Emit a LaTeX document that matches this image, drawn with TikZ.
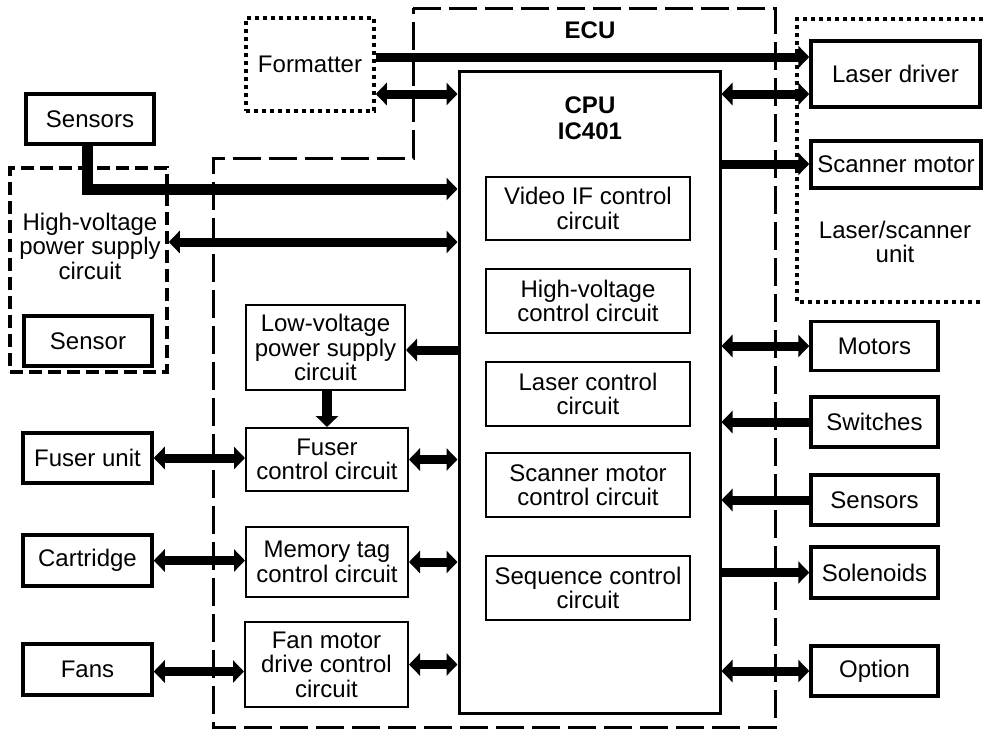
\documentclass[tikz,border=0pt]{standalone}
\usepackage{fontspec}
\setmainfont{Liberation Sans}
\usetikzlibrary{arrows.meta}
\newcommand{\fsz}{\fontsize{24}{24.5}\selectfont}
\tikzset{
  obox/.style={draw, line width=3.5pt, inner sep=0pt, align=center, font=\fsz},
  ibox/.style={draw, line width=2pt, inner sep=0pt, align=center, font=\fsz},
  txt/.style={inner sep=0pt, align=center, font=\fsz},
  btxt/.style={inner sep=0pt, align=center, font=\fsz\bfseries},
  dotbox/.style={line width=3.5pt, dash pattern=on 4pt off 4pt},
  hvdash/.style={line width=3.5pt, dash pattern=on 13pt off 6pt},
  ecudash/.style={line width=3pt, dash pattern=on 28pt off 8pt},
  sarrow/.style={line width=9pt, -{Triangle[length=11pt,width=22pt]}},
  barrow/.style={line width=9pt, {Triangle[length=11pt,width=22pt]}-{Triangle[length=11pt,width=22pt]}},
}
\begin{document}
\begin{tikzpicture}[x=1pt,y=-1pt]
\useasboundingbox (0,0) rectangle (983,729);

% ECU boundary
\draw[ecudash] (413,8) -- (775,8) -- (775,727) -- (213,727) -- (213,158) -- (413,158) -- cycle;
\node[btxt] (ecu) at (590,30) {ECU};

% Laser/scanner unit
\draw[dotbox] (983,19) -- (797,19) -- (797,302) -- (983,302);
\node[txt] (lsu) at (895,242) {Laser/scanner\\unit};

% Formatter
\node[draw, dotbox, minimum width=128pt, minimum height=93pt, inner sep=0pt, font=\fsz] (fmt) at (310,64.5) {Formatter};

% CPU
\node[draw, line width=3pt, minimum width=261pt, minimum height=642pt, inner sep=0pt] (cpu) at (589.5,392) {};
\node[btxt] (cpulbl) at (590,118) {CPU\\[2pt]IC401};
\node[ibox, minimum width=204pt, minimum height=63pt] (vif) at (588,208.5) {Video IF control\\circuit};
\node[ibox, minimum width=204pt, minimum height=64pt] (hvc) at (588,301) {High-voltage\\control circuit};
\node[ibox, minimum width=204pt, minimum height=64pt] (lc) at (588,394) {Laser control\\circuit};
\node[ibox, minimum width=204pt, minimum height=64pt] (smc) at (588,485) {Scanner motor\\control circuit};
\node[ibox, minimum width=204pt, minimum height=64pt] (seq) at (588,588) {Sequence control\\circuit};

% Left side
\node[obox, minimum width=128pt, minimum height=50pt] (sensL) at (90,119) {Sensors};
\node[draw, hvdash, minimum width=157pt, minimum height=204pt, inner sep=0pt] (hv) at (88.5,270) {};
\node[txt] (hvlbl) at (90,246) {High-voltage\\power supply\\circuit};
\node[obox, minimum width=128pt, minimum height=50pt] (sens1) at (88,341) {Sensor};
\node[obox, minimum width=129pt, minimum height=50pt] (fuseru) at (87.5,458) {Fuser unit};
\node[obox, minimum width=129pt, minimum height=51pt] (cart) at (87.5,560.5) {Cartridge};
\node[obox, minimum width=129pt, minimum height=51pt] (fans) at (87.5,669.5) {Fans};

\node[ibox, minimum width=159pt, minimum height=85pt] (lv) at (325.5,347.5) {Low-voltage\\power supply\\circuit};
\node[ibox, minimum width=162pt, minimum height=63pt] (fuserc) at (327,459.5) {Fuser\\control circuit};
\node[ibox, minimum width=162pt, minimum height=70pt] (memc) at (327,562) {Memory tag\\control circuit};
\node[ibox, minimum width=163pt, minimum height=85pt] (fanc) at (326.5,664.5) {Fan motor\\drive control\\circuit};

% Right side
\node[obox, minimum width=169pt, minimum height=66pt] (ld) at (895.5,74) {Laser driver};
\node[obox, minimum width=170pt, minimum height=47pt] (sm) at (896,164.5) {Scanner motor};
\node[obox, minimum width=127pt, minimum height=49pt] (motors) at (874.5,346) {Motors};
\node[obox, minimum width=127pt, minimum height=50pt] (sw) at (874.5,422) {Switches};
\node[obox, minimum width=127pt, minimum height=50pt] (sensR) at (874.5,500) {Sensors};
\node[obox, minimum width=127pt, minimum height=51pt] (sol) at (874.5,572.5) {Solenoids};
\node[obox, minimum width=127pt, minimum height=50pt] (opt) at (874.5,671) {Option};

% helper coordinates for connector heights
\coordinate (y57) at (0,57);
\coordinate (y94) at (0,94);
\coordinate (y164) at (0,164);
\coordinate (y189) at (0,189);
\coordinate (y242) at (0,242);
\coordinate (y350) at (0,350);

% Connectors top
\draw[sarrow] (y57 -| fmt.east) -- (y57 -| ld.west);
\draw[barrow] (y94 -| fmt.east) -- (y94 -| cpu.west);
\draw[barrow] (y94 -| cpu.east) -- (y94 -| ld.west);
\draw[sarrow] (y164 -| cpu.east) -- (y164 -| sm.west);

% Left connectors
\draw[line width=11pt, -{Triangle[length=11pt,width=22pt]}] ([xshift=-3pt]sensL.south) |- (y189 -| cpu.west);
\draw[barrow] (y242 -| hv.east) -- (y242 -| cpu.west);
\draw[sarrow] (y350 -| cpu.west) -- (y350 -| lv.east);
\draw[line width=10pt, -{Triangle[length=11pt,width=22pt]}] ([xshift=1.5pt]lv.south) -- ([xshift=1.5pt]lv.south |- fuserc.north);
\draw[barrow] (fuseru.east) -- (fuseru.east -| fuserc.west);
\draw[barrow] (fuserc.east) -- (fuserc.east -| cpu.west);
\draw[barrow] (cart.east) -- (cart.east -| memc.west);
\draw[barrow] (memc.east) -- (memc.east -| cpu.west);
\draw[barrow] ([yshift=-2pt]fans.east) -- ([yshift=-2pt]fans.east -| fanc.west);
\draw[barrow] (fanc.east) -- (fanc.east -| cpu.west);

% Right connectors
\draw[barrow] (motors.west -| cpu.east) -- (motors.west);
\draw[sarrow] (sw.west) -- (sw.west -| cpu.east);
\draw[sarrow] (sensR.west) -- (sensR.west -| cpu.east);
\draw[sarrow] (sol.west -| cpu.east) -- (sol.west);
\draw[barrow] (opt.west -| cpu.east) -- (opt.west);
\end{tikzpicture}
\end{document}
